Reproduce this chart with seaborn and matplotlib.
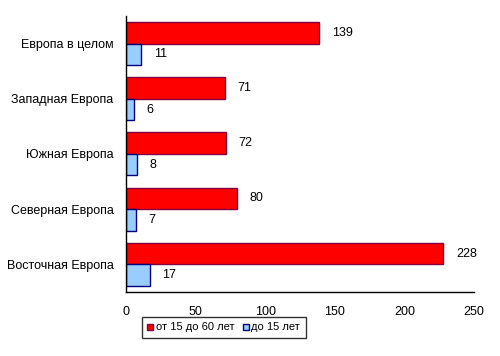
import seaborn as sns
import matplotlib.pyplot as plt
import pandas as pd
from matplotlib.lines import Line2D

regions = ["Европа в целом", "Западная Европа", "Южная Европа",
           "Северная Европа", "Восточная Европа"]
adults = [139, 71, 72, 80, 228]
children = [11, 6, 8, 7, 17]
series = ["от 15 до 60 лет", "до 15 лет"]

df = pd.DataFrame({
    "Регион": regions * 2,
    "Значение": adults + children,
    "Группа": [series[0]] * len(regions) + [series[1]] * len(regions),
})

sns.set_style("white")
plt.rcParams['font.family'] = ['Liberation Sans', 'DejaVu Sans']
plt.rcParams['text.color'] = 'black'
plt.rcParams['xtick.color'] = 'black'
plt.rcParams['ytick.color'] = 'black'

fig = plt.figure(figsize=(5, 3.56), dpi=100)
ax = fig.add_axes([0.252, 0.18, 0.696, 0.775])

colors = {series[0]: "#ff0000", series[1]: "#99ccff"}
edges = {series[0]: "#800040", series[1]: "#000080"}

sns.barplot(data=df, x="Значение", y="Регион", hue="Группа", hue_order=series,
            palette=colors, saturation=1, orient="h", width=0.78, legend=False,
            ax=ax, linewidth=1)

for cont, s in zip(ax.containers, series):
    for bar in cont:
        bar.set_edgecolor(edges[s])
    ax.bar_label(cont, padding=9, fontsize=9, color="black")

ax.set_xlim(0, 250)
ax.set_xticks([0, 50, 100, 150, 200, 250])
ax.tick_params(axis="both", length=0, labelsize=9, labelcolor="black")
ax.tick_params(axis="x", pad=10)
ax.tick_params(axis="y", pad=9)
ax.set_xlabel("")
ax.set_ylabel("")
for side in ["top", "right"]:
    ax.spines[side].set_visible(False)
for side in ["left", "bottom"]:
    ax.spines[side].set_color("black")
    ax.spines[side].set_linewidth(1)

handles = [Line2D([], [], marker="s", linestyle="", markersize=5,
                  markerfacecolor=colors[s], markeredgecolor=edges[s])
           for s in series]
leg = fig.legend(handles, series, loc="lower left", bbox_to_anchor=(0.272, 0.035),
                 ncol=2, fontsize=8, frameon=True, fancybox=False,
                 handlelength=0.6, handletextpad=0.2, columnspacing=0.7,
                 borderpad=0.5)
leg.get_frame().set_edgecolor("black")
leg.get_frame().set_linewidth(1)

fig.savefig("out.png", dpi=100)
